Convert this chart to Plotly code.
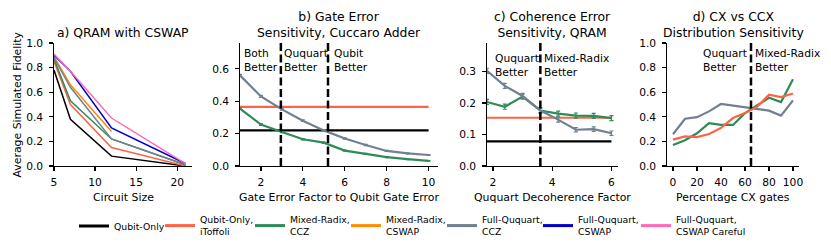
import plotly.graph_objects as go

# ---------------- data ----------------
names = ["Qubit-Only", "Qubit-Only,<br>iToffoli", "Mixed-Radix,<br>CCZ", "Mixed-Radix,<br>CSWAP",
         "Full-Ququart,<br>CCZ", "Full-Ququart,<br>CSWAP", "Full-Ququart,<br>CSWAP Careful"]
colors = ["#000000", "#ff6347", "#2e8b57", "#ff8c00", "#708090", "#0000cd", "#ff69b4"]

# a) QRAM with CSWAP
circuit_size = [5, 7, 12, 21]
a_qubit = [0.78, 0.38, 0.08, 0.0]
a_qubit_itof = [0.85, 0.50, 0.15, 0.0]
a_mixed_ccz = [0.87, 0.53, 0.22, 0.01]
a_mixed_cswap = [0.89, 0.66, 0.28]
a_full_ccz = [0.88, 0.64, 0.22, 0.01]
a_full_cswap = [0.90, 0.77, 0.31, 0.02]
a_full_careful = [0.91, 0.77, 0.39, 0.02]

# b) Gate error sensitivity, Cuccaro adder
gate_factor = [1, 2, 3, 4, 5, 6, 7, 8, 9, 10]
b_full_ccz = [0.56, 0.43, 0.35, 0.28, 0.22, 0.17, 0.13, 0.093, 0.078, 0.068]
b_mixed_ccz = [0.355, 0.256, 0.21, 0.165, 0.144, 0.095, 0.075, 0.055, 0.042, 0.032]
b_full_err = [0.006, 0.006, 0.005, 0.005, 0.005, 0.004, 0.004, 0.003, 0.003, 0.003]
b_mixed_err = [0.005, 0.005, 0.004, 0.004, 0.004, 0.003, 0.003, 0.003, 0.002, 0.002]
b_range = [1, 10]
b_qubit = [0.22, 0.22]
b_qubit_itof = [0.365, 0.365]
b_splits = [2.95, 5.2]

# c) Coherence error sensitivity, QRAM
deco_factor = [1.8, 2.4, 3.0, 3.6, 4.2, 4.8, 5.4, 6.0]
c_full_ccz = [0.302, 0.254, 0.222, 0.176, 0.147, 0.115, 0.117, 0.104]
c_mixed_ccz = [0.203, 0.188, 0.220, 0.176, 0.166, 0.160, 0.159, 0.152]
c_full_err = [0.008, 0.008, 0.008, 0.008, 0.008, 0.007, 0.007, 0.007]
c_mixed_err = [0.008, 0.008, 0.008, 0.008, 0.008, 0.008, 0.008, 0.008]
c_range = [1.8, 6.0]
c_qubit = [0.078, 0.078]
c_qubit_itof = [0.153, 0.153]
c_splits = [3.6]

# d) CX vs CCX distribution sensitivity
pct_cx = [0, 10, 20, 30, 40, 50, 60, 70, 80, 90, 100]
d_full_ccz = [0.258, 0.384, 0.397, 0.444, 0.504, 0.49, 0.48, 0.463, 0.45, 0.41, 0.534]
d_mixed_ccz = [0.17, 0.21, 0.266, 0.348, 0.334, 0.334, 0.43, 0.49, 0.555, 0.52, 0.705]
d_qubit_itof = [0.215, 0.24, 0.235, 0.26, 0.31, 0.39, 0.43, 0.48, 0.58, 0.56, 0.59]
d_splits = [65]

# ---------------- figure ----------------
W, H = 831, 250
FONT = "DejaVu Sans"
fig = go.Figure()

def px_x(p):
    return p / W

def px_y(p):
    return 1 - p / H

panels = [(54, 192), (240, 438), (487, 618), (667, 799)]
top_px, bot_px = 43, 166

def add(x, y, color, axis, width, err=None):
    kw = {}
    if err is not None:
        kw["error_y"] = dict(type="data", array=err, visible=True, color=color, thickness=1.2, width=2)
    fig.add_trace(go.Scatter(x=x, y=y, mode="lines", line=dict(color=color, width=width),
                             xaxis="x" + axis, yaxis="y" + axis, showlegend=False,
                             hoverinfo="skip", **kw))

for ys, c in zip([a_qubit, a_qubit_itof, a_mixed_ccz, a_mixed_cswap, a_full_ccz, a_full_cswap, a_full_careful], colors):
    add(circuit_size[:len(ys)], ys, c, "", 1.5)
add(b_range, b_qubit, colors[0], "2", 2.2)
add(b_range, b_qubit_itof, colors[1], "2", 2.2)
add(gate_factor, b_mixed_ccz, colors[2], "2", 2.2, b_mixed_err)
add(gate_factor, b_full_ccz, colors[4], "2", 2.2, b_full_err)
add(c_range, c_qubit, colors[0], "3", 2.2)
add(c_range, c_qubit_itof, colors[1], "3", 2.2)
add(deco_factor, c_mixed_ccz, colors[2], "3", 2.2, c_mixed_err)
add(deco_factor, c_full_ccz, colors[4], "3", 2.2, c_full_err)
add(pct_cx, d_full_ccz, colors[4], "4", 2.2)
add(pct_cx, d_mixed_ccz, colors[2], "4", 2.2)
add(pct_cx, d_qubit_itof, colors[1], "4", 2.2)

# legend entries, one legend box per entry so each can be placed like the reference
legend_text_px = [114, 200, 290, 386, 482, 578, 676]
for i, (n, c) in enumerate(zip(names, colors)):
    lg = "legend" if i == 0 else "legend%d" % (i + 1)
    fig.add_trace(go.Scatter(x=[None], y=[None], mode="lines", name=n, legend=lg,
                             line=dict(color=c, width=3), xaxis="x", yaxis="y"))

shapes = []
for ax, splits in [("2", b_splits), ("3", c_splits), ("4", d_splits)]:
    for s in splits:
        shapes.append(dict(type="line", xref="x" + ax, yref="y" + ax + " domain", x0=s, x1=s, y0=0, y1=1,
                           line=dict(color="black", width=2.5, dash="8px,3.5px")))

axis_common = dict(showline=True, linecolor="black", linewidth=1.2, ticks="outside", ticklen=3.5,
                   tickwidth=1.2, tickcolor="black", showgrid=False, zeroline=False,
                   tickfont=dict(size=10.7, color="black", family=FONT),
                   mirror=False, fixedrange=True, automargin=False)

xr = [[5, 21.8], [1, 10.45], [1.8, 6.22], [-5, 105]]
yr = [[0, 1.0], [0, 0.76], [0, 0.39], [0, 1.0]]
xt = [[5, 10, 15, 20], [2, 4, 6, 8, 10], [2, 4, 6], [0, 20, 40, 60, 80, 100]]
yt = [[0, 0.2, 0.4, 0.6, 0.8, 1.0], [0, 0.2, 0.4, 0.6], [0, 0.1, 0.2, 0.3], [0, 0.2, 0.4, 0.6, 0.8, 1.0]]
xtitles = ["Circuit Size", "Gate Error Factor to Qubit Gate Error", "Ququart Decoherence Factor",
           "Percentage CX gates"]

layout = dict(template="none", width=W, height=H, margin=dict(l=0, r=0, t=0, b=0, autoexpand=False),
              paper_bgcolor="white", plot_bgcolor="white", hovermode=False,
              font=dict(family=FONT, color="black", size=10.7), shapes=shapes)
for i, (l, r) in enumerate(panels):
    s = "" if i == 0 else str(i + 1)
    layout["xaxis" + s] = dict(axis_common, domain=[px_x(l), px_x(r)], range=xr[i], tickvals=xt[i],
                               anchor="y" + s, ticklabelstandoff=2)
    layout["yaxis" + s] = dict(axis_common, domain=[px_y(bot_px), px_y(top_px)], range=yr[i],
                               tickvals=yt[i], tickformat=".1f", anchor="x" + s, ticklabelstandoff=4)

titles = ["a) QRAM with CSWAP", "b) Gate Error<br>Sensitivity, Cuccaro Adder",
          "c) Coherence Error<br>Sensitivity, QRAM", "d) CX vs CCX<br>Distribution Sensitivity"]
ann = []
for i, (l, r) in enumerate(panels):
    ann.append(dict(text=titles[i], xref="paper", yref="paper", x=px_x((l + r) / 2), y=px_y(42),
                    xanchor="center", yanchor="bottom", showarrow=False, font=dict(size=12.4)))
    ann.append(dict(text=xtitles[i], xref="paper", yref="paper", x=px_x((l + r) / 2), y=px_y(197),
                    xanchor="center", yanchor="middle", showarrow=False, font=dict(size=10.9)))
ann.append(dict(text="Average Simulated Fidelity", xref="paper", yref="paper", x=px_x(17),
                y=px_y((top_px + bot_px) / 2), textangle=-90, xanchor="center", yanchor="middle",
                showarrow=False, font=dict(size=10.9)))

def txt(t, ax, x, ytop):
    ann.append(dict(text=t, xref="x" + ax, yref="paper", x=x, y=px_y(ytop), xanchor="left",
                    yanchor="top", align="left", showarrow=False, font=dict(size=10.7)))

txt("Both<br>Better", "2", 1.08, 45)
txt("Ququart<br>Better", "2", 3.0, 45)
txt("Qubit<br>Better", "2", 5.4, 45)
txt("Ququart<br>Better", "3", 2.0, 50)
txt("Mixed-Radix<br>Better", "3", 3.66, 50)
txt("Ququart<br>Better", "4", 23, 45)
txt("Mixed-Radix<br>Better", "4", 66.5, 45)
layout["annotations"] = ann

for i, tx in enumerate(legend_text_px):
    lg = "legend" if i == 0 else "legend%d" % (i + 1)
    layout[lg] = dict(orientation="v", x=px_x(tx - 40), xanchor="left", y=px_y(226), yanchor="middle",
                      font=dict(size=9.3, family=FONT, color="black"), itemwidth=30,
                      bgcolor="rgba(0,0,0,0)", borderwidth=0)
fig.update_layout(**layout)
fig.write_html("out.html", config={"displayModeBar": False, "staticPlot": True},
               post_script="document.body.style.margin='0px';")
